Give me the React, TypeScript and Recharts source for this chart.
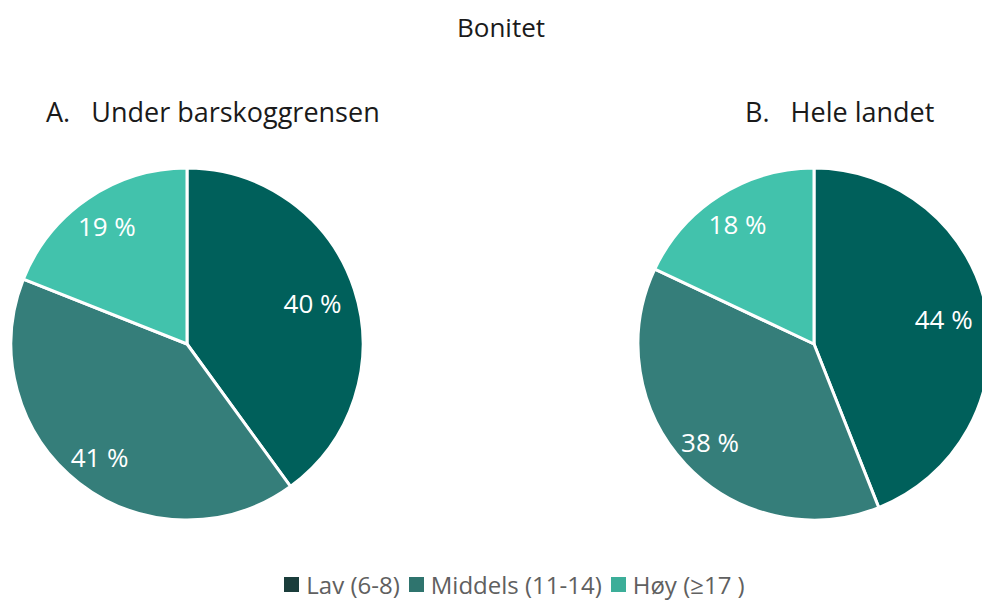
import { PieChart, Pie, Cell, Legend } from 'recharts';

const categories = ['Lav (6-8)', 'Middels (11-14)', 'Høy (≥17 )'];
const underBarskoggrensen = [40, 41, 19];
const heleLandet = [44, 38, 18];

const SLICE_COLORS = ['#00605b', '#357e7a', '#42c2ac'];
const LEGEND_COLORS = ['#1a3d3b', '#2f746e', '#3cae99'];

const FONT = '"Open Sans", sans-serif';
const RADIAN = Math.PI / 180;

const dataA = categories.map((name, i) => ({ name, value: underBarskoggrensen[i] }));
const dataB = categories.map((name, i) => ({ name, value: heleLandet[i] }));

interface labelProps {
    cx: number,
    cy: number,
    midAngle: number,
    outerRadius: number,
    value: number
}

const renderLabel = ({ cx, cy, midAngle, outerRadius, value }: labelProps) => {
    const cos = Math.cos(-midAngle * RADIAN);
    const radius = outerRadius * (cos > 0.3 ? 0.75 : 0.81);
    const x = cx + radius * cos;
    const y = cy + radius * Math.sin(-midAngle * RADIAN);
    return (
        <text x={x} y={y} fill="#ffffff" textAnchor="middle" dominantBaseline="central"
            style={{ fontFamily: FONT, fontSize: 26 }}>
            {`${value} %`}
        </text>
    );
};

const renderLegend = () => (
    <div style={{ display: 'flex', justifyContent: 'center', alignItems: 'center', fontFamily: FONT, fontSize: 24, color: '#606060' }}>
        {categories.map((c, i) => (
            <span key={c} style={{ display: 'flex', alignItems: 'center', marginRight: 9 }}>
                <span style={{ width: 15, height: 15, background: LEGEND_COLORS[i], marginRight: 7, display: 'inline-block' }} />
                {c}
            </span>
        ))}
    </div>
);

export default function App() {
    return (
        <div style={{ position: 'absolute', left: 0, top: 0, width: 982, height: 600, overflow: 'hidden', background: '#fff' }}>
            <div style={{ position: 'absolute', top: 9, width: 982, textAlign: 'center', fontFamily: FONT, fontSize: 26, color: '#1a1a1a', left: 10 }}>
                Bonitet
            </div>
            <div style={{ position: 'absolute', top: 93, left: 46, fontFamily: FONT, fontSize: 27, color: '#1a1a1a', whiteSpace: 'pre' }}>
                {'A.   Under barskoggrensen'}
            </div>
            <div style={{ position: 'absolute', top: 93, left: 745, fontFamily: FONT, fontSize: 27, color: '#1a1a1a', whiteSpace: 'pre' }}>
                {'B.   Hele landet'}
            </div>
            <PieChart width={982} height={600} style={{ position: 'absolute', left: 0, top: 0 }}>
                <Pie
                    data={dataA}
                    dataKey="value"
                    cx={182}
                    cy={339}
                    outerRadius={176}
                    startAngle={90}
                    endAngle={-270}
                    stroke="#ffffff"
                    strokeWidth={3}
                    labelLine={false}
                    label={renderLabel}
                    isAnimationActive={false}
                >
                    {dataA.map((_entry, index) => (
                        <Cell key={`a-${index}`} fill={SLICE_COLORS[index]} />
                    ))}
                </Pie>
                <Pie
                    data={dataB}
                    dataKey="value"
                    cx={809}
                    cy={339}
                    outerRadius={176}
                    startAngle={90}
                    endAngle={-270}
                    stroke="#ffffff"
                    strokeWidth={3}
                    labelLine={false}
                    label={renderLabel}
                    isAnimationActive={false}
                >
                    {dataB.map((_entry, index) => (
                        <Cell key={`b-${index}`} fill={SLICE_COLORS[index]} />
                    ))}
                </Pie>
                <Legend content={renderLegend} wrapperStyle={{ position: 'absolute', top: 568, left: 28, width: 982 }} />
            </PieChart>
        </div>
    );
}
